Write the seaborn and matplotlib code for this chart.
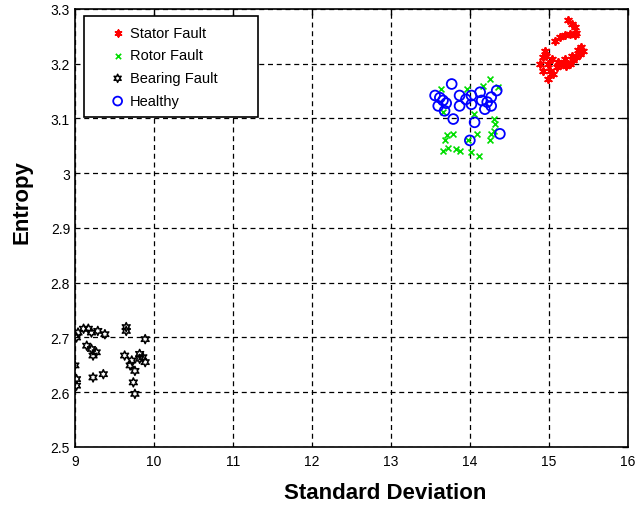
import numpy as np
import pandas as pd
import matplotlib
matplotlib.use("Agg")
import matplotlib.pyplot as plt
from matplotlib.patches import Rectangle
import seaborn as sns

stator_x = [15.24, 15.29, 15.33, 15.35, 15.33, 15.27, 15.20, 15.14, 15.08, 15.43, 15.39, 15.35,
            15.31, 15.27, 15.22, 15.16, 15.12, 15.10, 14.95, 14.93, 14.89, 14.99, 14.93, 15.01,
            14.99, 15.05, 15.29, 15.20, 15.04, 15.41, 15.37, 14.97]
stator_y = [3.279, 3.273, 3.267, 3.257, 3.252, 3.254, 3.252, 3.249, 3.242, 3.224, 3.218, 3.212,
            3.206, 3.200, 3.196, 3.200, 3.203, 3.194, 3.224, 3.212, 3.200, 3.200, 3.187, 3.187,
            3.172, 3.181, 3.215, 3.209, 3.209, 3.230, 3.226, 3.215]

rotor_x = [14.25, 14.17, 14.36, 13.64, 13.96, 13.66, 14.30, 14.32, 13.71, 13.79, 13.68, 13.72,
           13.83, 13.66, 13.98, 14.09, 14.11, 14.02, 14.27, 14.25, 14.30, 14.05, 13.87]
rotor_y = [3.172, 3.160, 3.157, 3.154, 3.154, 3.111, 3.099, 3.090, 3.069, 3.072, 3.060, 3.047,
           3.044, 3.041, 3.060, 3.072, 3.032, 3.038, 3.072, 3.060, 3.078, 3.108, 3.041]

bearing_x = [9.04, 9.11, 9.17, 9.21, 9.29, 9.38, 9.02, 9.15, 9.21, 9.27, 9.23, 9.00, 9.02, 9.02,
             9.23, 9.36, 9.65, 9.65, 9.89, 9.63, 9.72, 9.70, 9.76, 9.82, 9.86, 9.89, 9.82, 9.74,
             9.76]
bearing_y = [2.709, 2.716, 2.716, 2.709, 2.712, 2.706, 2.700, 2.685, 2.679, 2.673, 2.667, 2.649,
             2.624, 2.612, 2.627, 2.633, 2.719, 2.712, 2.697, 2.667, 2.658, 2.649, 2.639, 2.670,
             2.664, 2.655, 2.661, 2.618, 2.597]

healthy_x = [13.77, 13.56, 13.66, 13.60, 13.68, 13.87, 13.87, 14.02, 14.02, 14.13, 14.15, 14.19,
             14.27, 14.27, 14.34, 13.79, 14.06, 14.00, 14.38, 13.62, 13.70, 14.22, 13.95]
healthy_y = [3.163, 3.142, 3.133, 3.123, 3.114, 3.142, 3.123, 3.142, 3.126, 3.148, 3.133, 3.117,
             3.139, 3.123, 3.151, 3.099, 3.093, 3.060, 3.072, 3.138, 3.128, 3.130, 3.135]

x_ticks = [9, 10, 11, 12, 13, 14, 15, 16]
y_ticks = [2.5, 2.6, 2.7, 2.8, 2.9, 3.0, 3.1, 3.2, 3.3]
y_tick_labels = ["2.5", "2.6", "2.7", "2.8", "2.9", "3", "3.1", "3.2", "3.3"]

sns.set_style("white")
plt.rcParams["font.family"] = ["Liberation Sans", "DejaVu Sans"]
plt.rcParams["text.color"] = "black"
plt.rcParams["axes.labelcolor"] = "black"

fig = plt.figure(figsize=(6.4, 5.1), dpi=100)
ax = fig.add_axes([0.117, 0.1216, 0.864, 0.8588])

groups = [
    ("Stator Fault", stator_x, stator_y, dict(marker=(6, 2, 0), color="red", s=26, linewidths=1.4)),
    ("Rotor Fault", rotor_x, rotor_y, dict(marker="x", color="#00dd00", s=18, linewidths=1.2)),
    ("Bearing Fault", bearing_x, bearing_y, dict(marker=(6, 1, 0), facecolors="none", edgecolors="black", s=42, linewidths=1.1)),
    ("Healthy", healthy_x, healthy_y, dict(marker="o", facecolors="none", edgecolors="blue", s=50, linewidths=1.3)),
]
for name, xs, ys, kw in groups:
    df = pd.DataFrame({"x": xs, "y": ys})
    sns.scatterplot(data=df, x="x", y="y", ax=ax, label=name, **kw)

ax.set_xlim(9, 16)
ax.set_ylim(2.5, 3.3)
ax.set_xticks(x_ticks)
ax.set_yticks(y_ticks)
ax.set_yticklabels(y_tick_labels)
ax.grid(True, color="black", linestyle=(0, (4, 3)), linewidth=0.9)
ax.set_axisbelow(True)
for sp in ax.spines.values():
    sp.set_color("black")
    sp.set_linewidth(1.2)
ax.tick_params(direction="in", top=True, right=True, length=4, width=1, labelsize=10,
               colors="black")
ax.tick_params(axis="x", pad=5)
ax.set_xlabel("Standard Deviation", fontsize=16, fontweight="bold", color="black")
ax.set_ylabel("Entropy", fontsize=16, fontweight="bold", color="black")
ax.xaxis.set_label_coords(0.562, -0.103)
ax.xaxis.label.set_verticalalignment("center")
ax.yaxis.set_label_coords(-0.096, 0.562)
ax.yaxis.label.set_verticalalignment("center")

# legend frame
frame = Rectangle((0.0163, 0.7534), 0.3146, 0.2306, transform=ax.transAxes,
                  facecolor="white", edgecolor="black", linewidth=1.2, zorder=4.9)
ax.add_patch(frame)
leg = ax.legend(loc="upper left", bbox_to_anchor=(0.0615, 0.962), frameon=False,
                fontsize=10.5, handlelength=1.2, handletextpad=0.25, borderpad=0,
                borderaxespad=0, labelspacing=0.6, markerscale=0.9)
leg.set_zorder(5)
for t in leg.get_texts():
    t.set_color("black")

fig.savefig("out.png", dpi=100)
